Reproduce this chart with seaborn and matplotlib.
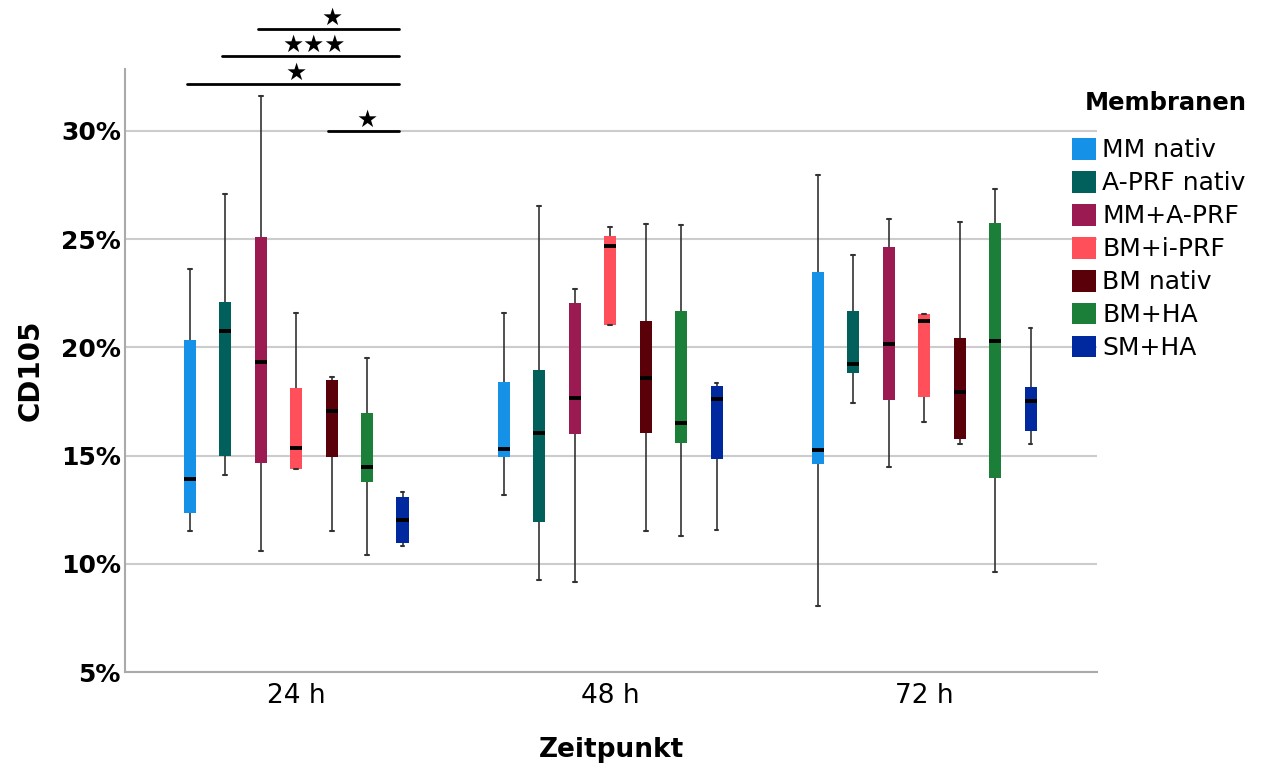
import pandas as pd
import seaborn as sns
import matplotlib.pyplot as plt
from matplotlib.patches import Patch
from matplotlib.ticker import PercentFormatter

zeitpunkte = ['24 h', '48 h', '72 h']
membranen = ['MM nativ', 'A-PRF nativ', 'MM+A-PRF', 'BM+i-PRF', 'BM nativ', 'BM+HA', 'SM+HA']
farben = ['#1591e8', '#02605c', '#9c1a52', '#ff4f5a', '#5a0009', '#1b7f3a', '#0029a0']

# five-number summaries (min, q1, median, q3, max) for 24 h, 48 h, 72 h
mm_nativ = [[11.5, 12.35, 13.9, 20.35, 23.6], [13.2, 14.95, 15.3, 18.4, 21.6], [8.05, 14.6, 15.25, 23.5, 27.95]]
aprf_nativ = [[14.1, 15.0, 20.75, 22.1, 27.1], [9.25, 11.95, 16.05, 18.95, 26.55], [17.45, 18.8, 19.25, 21.7, 24.25]]
mm_aprf = [[10.6, 14.65, 19.3, 25.1, 31.6], [9.15, 16.0, 17.65, 22.05, 22.7], [14.45, 17.55, 20.15, 24.65, 25.95]]
bm_iprf = [[14.4, 14.4, 15.35, 18.1, 21.6], [21.05, 21.05, 24.7, 25.15, 25.55], [16.55, 17.7, 21.2, 21.55, 21.55]]
bm_nativ = [[11.5, 14.95, 17.05, 18.5, 18.65], [11.5, 16.05, 18.6, 21.2, 25.7], [15.55, 15.75, 17.95, 20.45, 25.8]]
bm_ha = [[10.4, 13.8, 14.45, 16.95, 19.5], [11.3, 15.6, 16.5, 21.7, 25.65], [9.6, 13.95, 20.3, 25.75, 27.3]]
sm_ha = [[10.8, 10.95, 12.0, 13.1, 13.3], [11.55, 14.85, 17.6, 18.2, 18.35], [15.55, 16.15, 17.5, 18.15, 20.9]]

# significance brackets at 24 h: from membrane to SM+HA
sig_start = ['BM nativ', 'MM nativ', 'A-PRF nativ', 'MM+A-PRF']
sig_level = [30.0, 32.17, 33.46, 34.71]
sig_stars = ['★', '★', '★★★', '★']

rows = []
for m, werte in zip(membranen, [mm_nativ, aprf_nativ, mm_aprf, bm_iprf, bm_nativ, bm_ha, sm_ha]):
    for t, five in zip(zeitpunkte, werte):
        for v in five:
            rows.append({'Zeitpunkt': t, 'Membranen': m, 'CD105': v})
df = pd.DataFrame(rows)

sns.set_style('white')
plt.rcParams['font.family'] = ['DejaVu Sans']
plt.rcParams['text.color'] = 'black'
plt.rcParams['axes.labelcolor'] = 'black'
plt.rcParams['xtick.color'] = 'black'
plt.rcParams['ytick.color'] = 'black'

fig = plt.figure(figsize=(12.8, 7.71), dpi=100)
ax = fig.add_axes([0.0977, 0.1284, 0.7593, 0.7821])

group_width = 0.79
sns.boxplot(data=df, x='Zeitpunkt', y='CD105', hue='Membranen', order=zeitpunkte,
            hue_order=membranen, palette=farben, saturation=1, width=group_width, gap=0.66,
            whis=(0, 100), fliersize=0, linewidth=1.2, legend=False, ax=ax,
            boxprops=dict(edgecolor='none'),
            whiskerprops=dict(color='#333333', linewidth=1.2),
            capprops=dict(color='#333333', linewidth=1.5),
            medianprops=dict(color='black', linewidth=2.8),
            capwidths=0.012)

ax.set_xlim(-0.545, 2.55)
ax.set_ylim(5, 32.86)
ax.set_yticks([5, 10, 15, 20, 25, 30])
ax.yaxis.set_major_formatter(PercentFormatter(xmax=100, decimals=0))
ax.yaxis.grid(True, color='#cccccc', linewidth=1.5)
ax.xaxis.grid(False)
ax.set_axisbelow(True)
for s in ['top', 'right']:
    ax.spines[s].set_visible(False)
for s in ['left', 'bottom']:
    ax.spines[s].set_color('#aaaaaa')
    ax.spines[s].set_linewidth(1.5)
ax.tick_params(length=0)
ax.tick_params(axis='x', labelsize=19, pad=8)
ax.tick_params(axis='y', labelsize=18, pad=3)
for lab in ax.get_yticklabels():
    lab.set_fontweight('bold')

ax.set_ylabel('CD105', fontsize=20, fontweight='bold', labelpad=12)
ax.set_xlabel('Zeitpunkt', fontsize=19, fontweight='bold', labelpad=20)

# significance brackets
slot = group_width / len(membranen)
x_end = (membranen.index('SM+HA') - 3) * slot
for m, y, stars in zip(sig_start, sig_level, sig_stars):
    x0 = (membranen.index(m) - 3) * slot
    ax.plot([x0 - 0.01, x_end - 0.01], [y, y], color='black', lw=2, clip_on=False)
    ax.annotate(stars, xy=((x0 + x_end) / 2, y), xytext=(0, 8), textcoords='offset points',
                ha='center', va='center', fontsize=17, annotation_clip=False)

handles = [Patch(facecolor=c, edgecolor='none', label=m) for m, c in zip(membranen, farben)]
fig.text(1166 / 1280, 1 - 103 / 771, 'Membranen', ha='center', va='center',
         fontsize=17.5, fontweight='bold')
ax.legend(handles=handles, loc='upper left',
          bbox_to_anchor=(1072 / 1280, 1 - 138 / 771), bbox_transform=fig.transFigure,
          frameon=False, fontsize=18, handlelength=0.96, handleheight=0.96,
          handletextpad=0.25, labelspacing=0.34, borderaxespad=0, borderpad=0)

plt.savefig('out.png', dpi=100)
plt.close()
